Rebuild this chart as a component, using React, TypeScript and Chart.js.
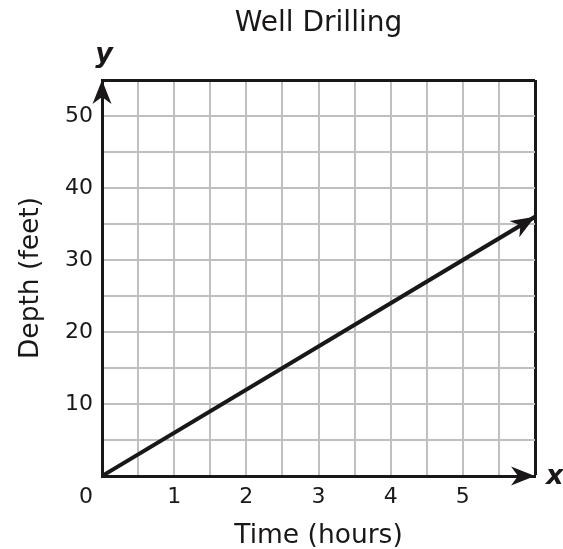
import React, { useEffect, useRef } from 'react';
import { Chart, registerables } from 'chart.js';

Chart.register(...registerables);

// ---- data ----
const chartTitle = 'Well Drilling';
const xAxisTitle = 'Time (hours)';
const yAxisTitle = 'Depth (feet)';
const timeHours = [0, 6];
const depthFeet = [0, 36];
const xRange = [0, 6];
const yRange = [0, 55];
const xGridStep = 0.5;
const yGridStep = 5;
const xTickLabels = [1, 2, 3, 4, 5];
const yTickLabels = [10, 20, 30, 40, 50];
const originLabel = '0';
const xAxisLetter = 'x';
const yAxisLetter = 'y';

const INK = '#1a1718';
const GRID = '#c0c0c0';
const FONT = '"DejaVu Sans", Verdana, sans-serif';

function arrowHead(ctx: CanvasRenderingContext2D, x: number, y: number, angle: number) {
  const len = 24;
  const half = 9.5;
  const notch = 7;
  ctx.save();
  ctx.translate(x, y);
  ctx.rotate(angle);
  ctx.beginPath();
  ctx.moveTo(0, 0);
  ctx.lineTo(-len, -half);
  ctx.lineTo(-len + notch, 0);
  ctx.lineTo(-len, half);
  ctx.closePath();
  ctx.fillStyle = INK;
  ctx.fill();
  ctx.restore();
}

const decorPlugin = {
  id: 'decor',
  afterDraw(chart: any) {
    const ctx: CanvasRenderingContext2D = chart.ctx;
    const xs = chart.scales.x;
    const ys = chart.scales.y;
    const x0 = xs.getPixelForValue(xRange[0]);
    const y0 = ys.getPixelForValue(yRange[0]);
    const xEnd = xs.getPixelForValue(xRange[1]);
    const yEnd = ys.getPixelForValue(yRange[1]);

    // axis arrows
    arrowHead(ctx, xEnd, y0, 0);
    arrowHead(ctx, x0, yEnd, -Math.PI / 2);

    // data line arrow
    const meta = chart.getDatasetMeta(0);
    const pts = meta.data;
    if (pts.length >= 2) {
      const a = pts[pts.length - 2];
      const b = pts[pts.length - 1];
      const ang = Math.atan2(b.y - a.y, b.x - a.x);
      arrowHead(ctx, b.x, b.y, ang);
    }

    ctx.save();
    ctx.fillStyle = INK;
    ctx.textBaseline = 'alphabetic';
    ctx.font = `italic bold 27px ${FONT}`;
    ctx.textAlign = 'center';
    ctx.fillText(yAxisLetter, x0 + 2, yEnd - 18);
    ctx.textAlign = 'left';
    ctx.fillText(xAxisLetter, xEnd + 11, y0 + 8);
    ctx.textAlign = 'center';
    ctx.font = `22px ${FONT}`;
    ctx.fillText(originLabel, x0 - 16, y0 + 27);
    ctx.restore();
  },
};

export default function App() {
  const ref = useRef<HTMLCanvasElement | null>(null);

  useEffect(() => {
    if (!ref.current) return;
    const chart = new Chart(ref.current, {
      type: 'scatter',
      data: {
        datasets: [
          {
            data: timeHours.map((t, i) => ({ x: t, y: depthFeet[i] })),
            showLine: true,
            borderColor: INK,
            borderWidth: 4,
            pointRadius: 0,
            fill: false,
          },
        ],
      },
      options: {
        animation: false,
        responsive: true,
        maintainAspectRatio: false,
        layout: { padding: { left: 0, right: 28, top: 0, bottom: 0 } },
        plugins: {
          legend: { display: false },
          tooltip: { enabled: false },
          title: {
            display: true,
            fullSize: false,
            text: chartTitle,
            color: INK,
            font: { family: FONT, size: 28, weight: 'normal', lineHeight: 1.2 },
            padding: { top: 7, bottom: 39.4 },
          },
        },
        scales: {
          x: {
            type: 'linear',
            min: xRange[0],
            max: xRange[1],
            afterFit: (s: any) => {
              s.height = 73;
            },
            border: { display: true, color: INK, width: 3 },
            grid: {
              drawTicks: false,
              color: (c: any) => (c.tick && c.tick.value === xRange[1] ? INK : GRID),
              lineWidth: (c: any) => (c.tick && c.tick.value === xRange[1] ? 3 : 2),
            },
            ticks: {
              stepSize: xGridStep,
              autoSkip: false,
              maxRotation: 0,
              padding: 8,
              color: INK,
              font: { family: FONT, size: 22 },
              callback: (v: any) => (xTickLabels.includes(Number(v)) ? String(v) : ''),
            },
            title: {
              display: true,
              text: xAxisTitle,
              color: INK,
              font: { family: FONT, size: 26.5, lineHeight: 1.0 },
              padding: { top: 0, bottom: 0 },
            },
          },
          y: {
            type: 'linear',
            min: yRange[0],
            max: yRange[1],
            afterFit: (s: any) => {
              s.width = 102;
            },
            border: { display: true, color: INK, width: 3 },
            grid: {
              drawTicks: false,
              color: (c: any) => (c.tick && c.tick.value === yRange[1] ? INK : GRID),
              lineWidth: (c: any) => (c.tick && c.tick.value === yRange[1] ? 3 : 2),
            },
            ticks: {
              stepSize: yGridStep,
              autoSkip: false,
              padding: 9,
              color: INK,
              font: { family: FONT, size: 22 },
              callback: (v: any) => (yTickLabels.includes(Number(v)) ? String(v) : ''),
            },
            title: {
              display: true,
              text: yAxisTitle,
              color: INK,
              font: { family: FONT, size: 26.5, lineHeight: 1.2 },
              padding: { top: 15, bottom: 0 },
            },
          },
        },
      },
      plugins: [decorPlugin],
    });
    return () => chart.destroy();
  }, []);

  return (
    <div style={{ position: 'absolute', left: 0, top: 0, width: 563, height: 549 }}>
      <canvas ref={ref} />
    </div>
  );
}
